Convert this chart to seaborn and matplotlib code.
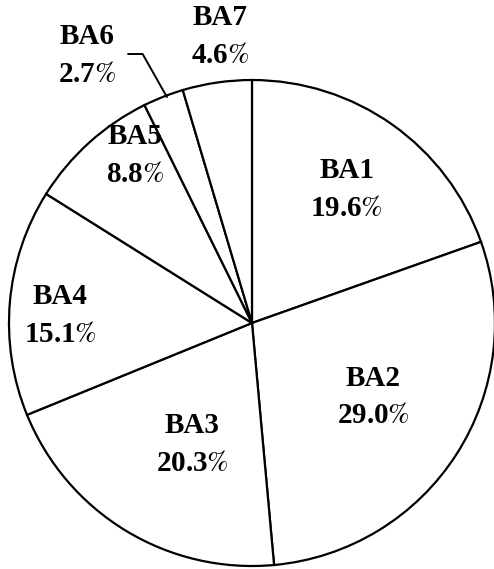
import matplotlib
matplotlib.use("Agg")
import matplotlib.pyplot as plt
import seaborn as sns

# shares of each BA group (percent)
groups = ["BA1", "BA2", "BA3", "BA4", "BA5", "BA6", "BA7"]
shares = [19.6, 29.0, 20.3, 15.1, 8.8, 2.7, 4.6]

sns.set_theme(style="white")
plt.rcParams["font.family"] = ["Liberation Serif", "DejaVu Serif"]
plt.rcParams["mathtext.fontset"] = "stix"

fig = plt.figure(figsize=(4.94, 5.69), dpi=100)
ax = fig.add_axes([0, 0, 1, 1])

wedges, _ = ax.pie(shares, startangle=90, counterclock=False,
                   colors=["white"] * len(shares),
                   wedgeprops=dict(edgecolor="black", linewidth=1.6))

# label spots (data units, pie radius = 1)
spots = [(0.39, 0.55), (0.50, -0.305), (-0.245, -0.50), (-0.79, 0.03),
         (-0.48, 0.69), (-0.68, 1.10), (-0.13, 1.18)]
for name, val, (x, y) in zip(groups, shares, spots):
    ax.text(x, y, f"{name}\n{val:.1f}" + r"$\mathit{\%}$", ha="center", va="center",
            fontsize=21, fontweight="bold", linespacing=1.5, color="black")

# leader line for the small BA6 slice
ax.plot([-0.51, -0.45, -0.35], [1.107, 1.107, 0.93], color="black", lw=1.4)

ax.set_xlim(-1.037, 0.996)
ax.set_ylim(-1.012, 1.329)
ax.axis("off")

fig.savefig("out.png", dpi=100)
